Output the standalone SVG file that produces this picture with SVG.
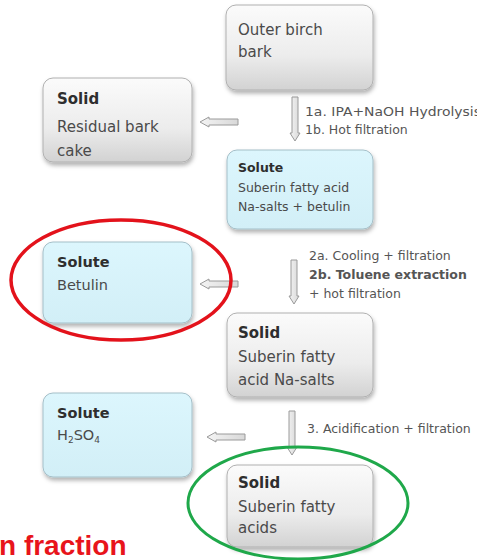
<svg xmlns="http://www.w3.org/2000/svg" width="477" height="560" viewBox="0 0 477 560">
<style>
.t{font-family:"DejaVu Sans","Liberation Sans",sans-serif;fill:#4a4a4a}
.b{font-weight:bold;fill:#2e2e2e}
.lab{font-family:"DejaVu Sans","Liberation Sans",sans-serif;font-size:12.5px;fill:#555}
.grey{fill:url(#gg);stroke:#b0b0b0;stroke-width:1}
.blue{fill:url(#gb);stroke:#a4bfc8;stroke-width:1}
.arr{fill:url(#ga);stroke:#9a9a9a;stroke-width:1}
</style>
<defs>
<linearGradient id="gg" x1="0" y1="0" x2="0" y2="1"><stop offset="0" stop-color="#fbfbfb"/><stop offset="0.6" stop-color="#ececec"/><stop offset="1" stop-color="#d2d2d2"/></linearGradient>
<linearGradient id="gb" x1="0" y1="0" x2="0" y2="1"><stop offset="0" stop-color="#dcf6fd"/><stop offset="1" stop-color="#d2eff7"/></linearGradient>
<linearGradient id="ga" x1="0" y1="0" x2="1" y2="0"><stop offset="0" stop-color="#f4f4f4"/><stop offset="1" stop-color="#d8d8d8"/></linearGradient>
<filter id="sh" x="-10%" y="-10%" width="130%" height="140%"><feDropShadow dx="1" dy="3" stdDeviation="2" flood-color="#000" flood-opacity="0.3"/></filter>
<path id="down" d="M-3,0 H3 V36 H5 L0,44 L-5,36 H-3 Z"/>
<path id="left" d="M0,0 L9,-5 V-3 H38 V3 H9 V5 Z"/>
</defs>

<g id="connectors">
<use href="#down" class="arr" x="295" y="97"/>
<use href="#left" class="arr" x="200" y="122"/>
<use href="#down" class="arr" x="294" y="260"/>
<use href="#left" class="arr" x="200" y="284"/>
<use href="#down" class="arr" x="292" y="411"/>
<use href="#left" class="arr" x="207" y="437"/>
<text class="lab" x="305" y="116" textLength="176" lengthAdjust="spacingAndGlyphs">1a. IPA+NaOH Hydrolysis</text>
<text class="lab" x="305" y="134">1b. Hot filtration</text>
<text class="lab" x="309" y="260" font-size="13">2a. Cooling + filtration</text>
<text class="lab" x="309" y="279" font-weight="bold" fill="#333">2b. Toluene extraction</text>
<text class="lab" x="309" y="298">+ hot filtration</text>
<text class="lab" x="307" y="433">3. Acidification + filtration</text>
</g>

<g id="outer-birch-bark">
<rect class="grey" filter="url(#sh)" x="226" y="5" width="147" height="85" rx="10"/>
<text class="t" font-size="15" x="238" y="35">Outer birch</text>
<text class="t" font-size="15" x="238" y="57">bark</text>
</g>

<g id="solid-residual">
<rect class="grey" filter="url(#sh)" x="43" y="78" width="149" height="84" rx="10"/>
<text class="t b" font-size="15" x="57" y="104">Solid</text>
<text class="t" font-size="15" x="57" y="132">Residual bark</text>
<text class="t" font-size="15" x="57" y="156">cake</text>
</g>

<g id="solute-salts-betulin">
<rect class="blue" filter="url(#sh)" x="227" y="150" width="146" height="79" rx="10"/>
<text class="t b" font-size="12.5" x="238" y="172">Solute</text>
<text class="t" font-size="12.5" x="238" y="192">Suberin fatty acid</text>
<text class="t" font-size="12.5" x="238" y="211">Na-salts + betulin</text>
</g>

<g id="solute-betulin">
<rect class="blue" filter="url(#sh)" x="43" y="242" width="149" height="81" rx="10"/>
<text class="t b" font-size="14.5" x="57" y="267">Solute</text>
<text class="t" font-size="14.5" x="57" y="290">Betulin</text>
</g>

<g id="solid-salts">
<rect class="grey" filter="url(#sh)" x="227" y="313" width="146" height="84" rx="10"/>
<text class="t b" font-size="15" x="238" y="338">Solid</text>
<text class="t" font-size="15" x="238" y="362">Suberin fatty</text>
<text class="t" font-size="15" x="238" y="385">acid Na-salts</text>
</g>

<g id="solute-h2so4">
<rect class="blue" filter="url(#sh)" x="43" y="393" width="149" height="84" rx="10"/>
<text class="t b" font-size="14.5" x="57" y="418">Solute</text>
<text class="t" font-size="14.5" x="57" y="440">H<tspan font-size="9" dy="3">2</tspan><tspan dy="-3">SO</tspan><tspan font-size="9" dy="3">4</tspan></text>
</g>

<g id="solid-acids">
<rect class="grey" filter="url(#sh)" x="227" y="465" width="146" height="82" rx="10"/>
<text class="t b" font-size="15" x="238" y="488">Solid</text>
<text class="t" font-size="15" x="238" y="512">Suberin fatty</text>
<text class="t" font-size="15" x="238" y="533">acids</text>
</g>

<g id="highlights">
<ellipse cx="121" cy="280" rx="110" ry="60" fill="none" stroke="#e3121b" stroke-width="3.5"/>
<ellipse cx="298" cy="503" rx="110" ry="56" fill="none" stroke="#1fa84a" stroke-width="3"/>
<text x="-1" y="555" font-family="Liberation Sans, Arial, sans-serif" font-size="28" font-weight="bold" fill="#e8141b">n fraction</text>
</g>
</svg>
